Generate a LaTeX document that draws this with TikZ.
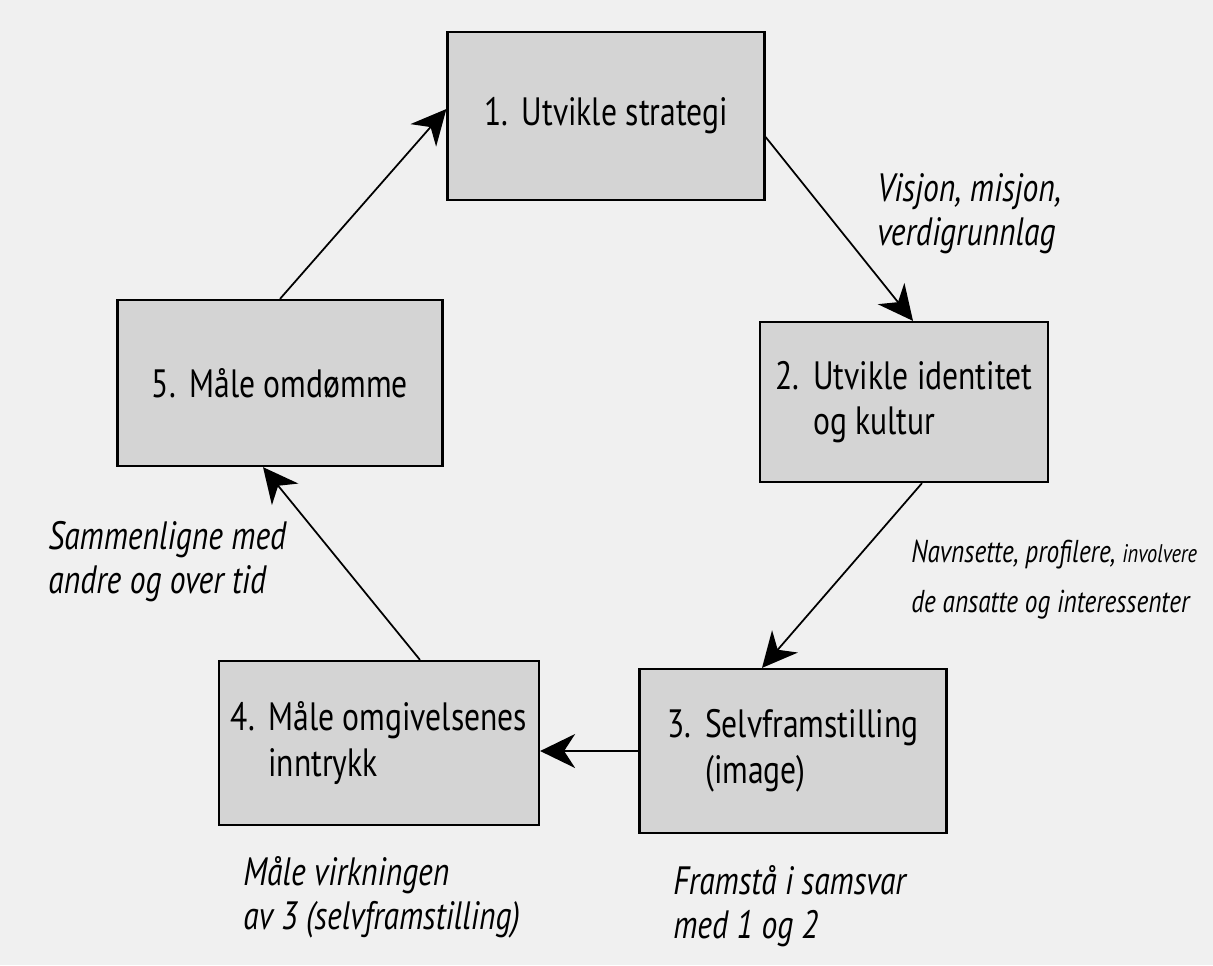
\documentclass[tikz,border=0pt]{standalone}
\usepackage{fontspec}
\setmainfont{PT Sans}[FakeStretch=0.8]
\usetikzlibrary{arrows.meta}
\definecolor{papir}{HTML}{F0F0F0}
\definecolor{boksgraa}{HTML}{D4D4D4}
\newcommand{\trinn}[1]{\makebox[0.95em][l]{#1.}}
\tikzset{
	boks/.style={draw=black,line width=1.3pt,fill=boksgraa,inner sep=0pt,align=left,font=\fontsize{22.5}{26}\selectfont},
	merk/.style={inner sep=0pt,align=left,font=\fontsize{22.5}{25}\selectfont\itshape},
	pil/.style={line width=1pt,-{Stealth[length=0.7cm,width=0.68cm,inset=0.22cm]}}
}
\begin{document}
\begin{tikzpicture}[x=0.02cm,y=-0.02cm]
		\fill[papir] (0,0) rectangle (1213,965);
		\useasboundingbox (0,0) rectangle (1213,965);
		% Boksene
		\node[boks,minimum width=6.34cm,minimum height=3.36cm] (strategi) at (606,116) {\trinn{1}Utvikle strategi};
		\node[boks,minimum width=5.76cm,minimum height=3.2cm] (identitet) at (904,402) {\trinn{2}Utvikle identitet\\\hspace*{0.95em}og kultur};
		\node[boks,minimum width=6.14cm,minimum height=3.28cm] (bilde) at (793,751) {\trinn{3}Selvframstilling\\\hspace*{0.95em}(image)};
		\node[boks,minimum width=6.4cm,minimum height=3.28cm] (inntrykk) at (379,743) {\trinn{4}Måle omgivelsenes\\\hspace*{0.95em}inntrykk};
		\node[boks,minimum width=6.5cm,minimum height=3.32cm] (omdomme) at (280,383) {\trinn{5}Måle omdømme};
		% Pilene
		\draw[pil] (omdomme.north) -- ([yshift=0.14cm]strategi.west);
		\draw[pil] ([yshift=-0.42cm]strategi.east) -- ([xshift=0.18cm]identitet.north);
		\draw[pil] ([xshift=0.36cm]identitet.south) -- ([xshift=-0.62cm]bilde.north);
		\draw[pil] (bilde.west) -- (bilde.west -| inntrykk.east);
		\draw[pil] ([xshift=0.82cm]inntrykk.north) -- ([xshift=-0.34cm]omdomme.south);
		% Tekstene ved pilene
		\node[merk,anchor=north west] (visjon) at (877,173) {Visjon, misjon,\\verdigrunnlag};
		\node[merk,anchor=north west,font=\fontsize{18}{28}\selectfont\itshape] (navn) at (911,540) {Navnsette, profilere, {\fontsize{14.5}{28}\selectfont involvere}\\de ansatte og interessenter};
		\node[merk,anchor=north west] (samme) at (48,521) {Sammenligne med\\andre og over tid};
		\node[merk,anchor=north west] (virkning) at (243,856) {Måle virkningen\\av 3 (selvframstilling)};
		\node[merk,anchor=north west] (samsvar) at (673,865) {Framstå i samsvar\\med 1 og 2};
\end{tikzpicture}
\end{document}
